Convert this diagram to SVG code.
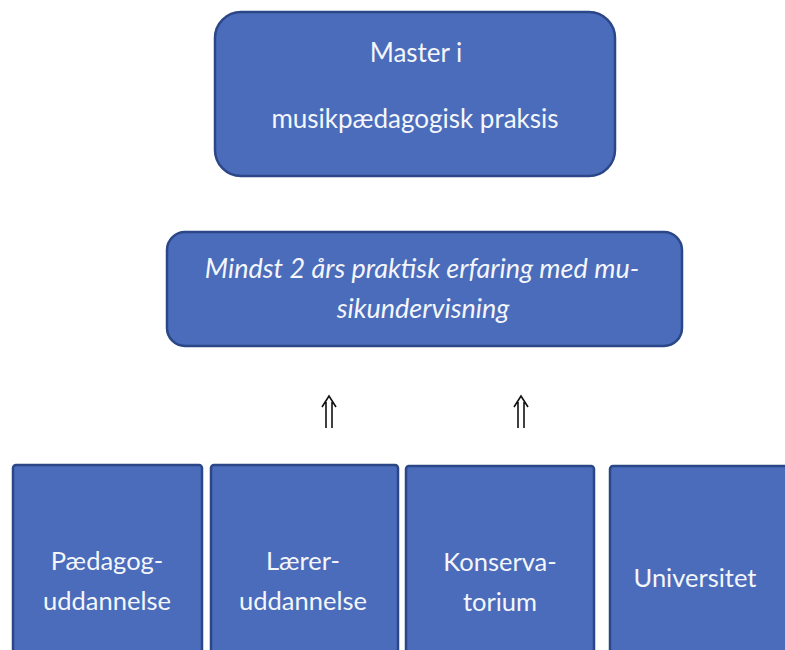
<svg xmlns="http://www.w3.org/2000/svg" width="785" height="650" viewBox="0 0 785 650">
<style>
.box{fill:#4a6cba;stroke:#2b4788;stroke-width:2.5}
.t{font-family:Lato,"Open Sans","Liberation Sans",sans-serif;fill:#f4f6fb;text-anchor:middle}
.tt{font-size:26px}
.ti{font-size:27px;font-style:italic}
.tb{font-size:25.5px}
.arr{fill:none;stroke:#111;stroke-width:1.6}
</style>
<rect width="785" height="650" fill="#ffffff"/>
<g id="master">
<rect class="box" x="215" y="12" width="400" height="164" rx="26"/>
<text class="t tt" x="416" y="62">Master i</text>
<text class="t tt" x="415" y="128">musikpædagogisk praksis</text>
</g>
<g id="erfaring">
<rect class="box" x="167" y="232" width="515" height="114" rx="18"/>
<text class="t ti" x="422" y="278">Mindst 2 års praktisk erfaring med mu-</text>
<text class="t ti" x="423" y="318">sikundervisning</text>
</g>
<g id="connectors">
<path class="arr" d="M326,402V428M332,402V428M322,407L329,396L336,407"/>
<path class="arr" d="M518,402V428M524,402V428M514,407L521,396L528,407"/>
</g>
<g id="paedagog">
<rect class="box" x="13" y="465" width="189" height="200" rx="3"/>
<text class="t tb" x="107" y="570">Pædagog-</text>
<text class="t tb" x="107" y="610">uddannelse</text>
</g>
<g id="laerer">
<rect class="box" x="211" y="465" width="187" height="200" rx="3"/>
<text class="t tb" x="303" y="570">Lærer-</text>
<text class="t tb" x="303" y="610">uddannelse</text>
</g>
<g id="konservatorium">
<rect class="box" x="406" y="466" width="188" height="200" rx="3"/>
<text class="t tb" x="500" y="571">Konserva-</text>
<text class="t tb" x="500" y="611">torium</text>
</g>
<g id="universitet">
<rect class="box" x="610" y="466" width="190" height="200" rx="3"/>
<text class="t tb" x="695" y="587">Universitet</text>
</g>
</svg>
